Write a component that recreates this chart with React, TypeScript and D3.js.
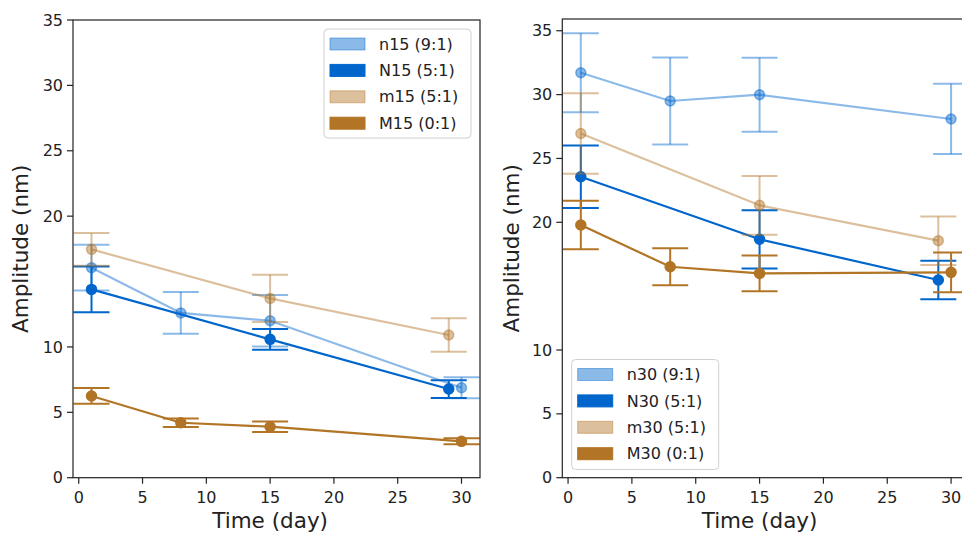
import React from "react";
import * as d3 from "d3";

// colours
const BLUE = "#0066cc";
const BROWN = "#b27425";
const LIGHT = 0.45;

const yTicks = [0, 5, 10, 20, 25, 30, 35];
const xTicks = [0, 5, 10, 15, 20, 25, 30];

// left panel (15)
const days_n15 = [1, 8, 15, 30];
const mean_n15 = [16.06, 12.6, 12.0, 6.88];
const err_n15 = [1.75, 1.6, 1.97, 0.8];
const days_N15 = [1, 15, 29];
const mean_N15 = [14.4, 10.58, 6.78];
const err_N15 = [1.75, 0.8, 0.68];
const days_m15 = [1, 15, 29];
const mean_m15 = [17.46, 13.71, 10.91];
const err_m15 = [1.25, 1.8, 1.28];
const days_M15 = [1, 8, 15, 30];
const mean_M15 = [6.25, 4.2, 3.9, 2.78];
const err_M15 = [0.6, 0.33, 0.4, 0.23];

// right panel (30)
const days_n30 = [1, 8, 15, 30];
const mean_n30 = [31.71, 29.5, 29.99, 28.09];
const err_n30 = [3.1, 3.4, 2.9, 2.75];
const days_N30 = [1, 15, 29];
const mean_N30 = [23.57, 18.67, 15.48];
const err_N30 = [2.45, 2.28, 1.5];
const days_m30 = [1, 15, 29];
const mean_m30 = [26.95, 21.33, 18.56];
const err_m30 = [3.15, 2.3, 1.9];
const days_M30 = [1, 8, 15, 30];
const mean_M30 = [19.79, 16.52, 16.0, 16.08];
const err_M30 = [1.9, 1.45, 1.4, 1.55];

type Series = {
  name: string;
  color: string;
  alpha: number;
  days: number[];
  mean: number[];
  err: number[];
};

const left: Series[] = [
  { name: "n15 (9:1)", color: BLUE, alpha: LIGHT, days: days_n15, mean: mean_n15, err: err_n15 },
  { name: "N15 (5:1)", color: BLUE, alpha: 1, days: days_N15, mean: mean_N15, err: err_N15 },
  { name: "m15 (5:1)", color: BROWN, alpha: LIGHT, days: days_m15, mean: mean_m15, err: err_m15 },
  { name: "M15 (0:1)", color: BROWN, alpha: 1, days: days_M15, mean: mean_M15, err: err_M15 },
];
const right: Series[] = [
  { name: "n30 (9:1)", color: BLUE, alpha: LIGHT, days: days_n30, mean: mean_n30, err: err_n30 },
  { name: "N30 (5:1)", color: BLUE, alpha: 1, days: days_N30, mean: mean_N30, err: err_N30 },
  { name: "m30 (5:1)", color: BROWN, alpha: LIGHT, days: days_m30, mean: mean_m30, err: err_m30 },
  { name: "M30 (0:1)", color: BROWN, alpha: 1, days: days_M30, mean: mean_M30, err: err_M30 },
];

const FONT = "DejaVu Sans, sans-serif";

function Panel({ id, series, x0, x1, y0, y1, yMax, labelX, legend }: any) {
  const x = d3.scaleLinear().domain([-0.45, 31.45]).range([x0, x1]);
  const y = d3.scaleLinear().domain([0, yMax]).range([y1, y0]);
  const line = d3.line<[number, number]>().x((d) => x(d[0])).y((d) => y(d[1]));
  const cap = 18;
  return (
    <g>
      <defs>
        <clipPath id={id}>
          <rect x={x0} y={y0} width={x1 - x0} height={y1 - y0} />
        </clipPath>
      </defs>
      <g clipPath={`url(#${id})`}>
        {series.map((s: Series) => (
          <g key={s.name}>
            {s.days.map((d, i) => {
              const top = y(s.mean[i] + s.err[i]);
              const bot = y(s.mean[i] - s.err[i]);
              return (
                <g key={i} stroke={s.color} strokeOpacity={s.alpha} strokeWidth={2}>
                  <line x1={x(d)} x2={x(d)} y1={top} y2={bot} />
                  <line x1={x(d) - cap} x2={x(d) + cap} y1={top} y2={top} />
                  <line x1={x(d) - cap} x2={x(d) + cap} y1={bot} y2={bot} />
                </g>
              );
            })}
            <path
              d={line(s.days.map((d, i) => [d, s.mean[i]]) as [number, number][]) || ""}
              fill="none"
              stroke={s.color}
              strokeOpacity={s.alpha}
              strokeWidth={2.2}
            />
            {s.days.map((d, i) => (
              <circle
                key={i}
                cx={x(d)}
                cy={y(s.mean[i])}
                r={5}
                fill={s.color}
                fillOpacity={s.alpha}
                stroke={s.color}
                strokeOpacity={s.alpha}
                strokeWidth={1.5}
              />
            ))}
          </g>
        ))}
      </g>
      <rect x={x0} y={y0} width={x1 - x0} height={y1 - y0} fill="none" stroke="#222" strokeWidth={1.2} />
      {yTicks.map((t) => (
        <g key={t}>
          <line x1={x0 - 6} x2={x0} y1={y(t)} y2={y(t)} stroke="#222" strokeWidth={1.2} />
          <text x={x0 - 10} y={y(t)} dy="0.35em" textAnchor="end" fontSize={16} fontFamily={FONT} fill="#222">
            {t}
          </text>
        </g>
      ))}
      {xTicks.map((t) => (
        <g key={t}>
          <line x1={x(t)} x2={x(t)} y1={y1} y2={y1 + 6} stroke="#222" strokeWidth={1.2} />
          <text x={x(t)} y={y1 + 25} textAnchor="middle" fontSize={16} fontFamily={FONT} fill="#222">
            {t}
          </text>
        </g>
      ))}
      <text
        transform={`translate(${labelX},${(y0 + y1) / 2}) rotate(-90)`}
        textAnchor="middle"
        fontSize={21.5}
        fontFamily={FONT}
        fill="#222"
      >
        Amplitude (nm)
      </text>
      <text x={x(15)} y={528} textAnchor="middle" fontSize={21.5} fontFamily={FONT} fill="#222">
        Time (day)
      </text>
      <g transform={`translate(${legend.x},${legend.y})`}>
        <rect width={legend.w} height={legend.h} rx={4} fill="white" fillOpacity={0.85} stroke="#d0d0d0" />
        {series.map((s: Series, i: number) => (
          <g key={s.name} transform={`translate(0,${15 + i * 26.4})`}>
            <rect
              x={6}
              y={-6}
              width={35}
              height={12}
              fill={s.color}
              fillOpacity={s.alpha}
              stroke={s.color}
              strokeOpacity={s.alpha}
              strokeWidth={1}
            />
            <text x={55} y={0} dy="0.35em" fontSize={16} fontFamily={FONT} fill="#222">
              {s.name}
            </text>
          </g>
        ))}
      </g>
    </g>
  );
}

export default function App() {
  return (
    <svg
      width={962}
      height={534}
      style={{ position: "absolute", left: 0, top: 0, background: "white" }}
    >
      <Panel
        id="clipL"
        series={left}
        x0={73}
        x1={480}
        y0={20}
        y1={477.7}
        yMax={35}
        labelX={28}
        legend={{ x: 324, y: 29, w: 147, h: 109 }}
      />
      <Panel
        id="clipR"
        series={right}
        x0={562.3}
        x1={969.6}
        y0={19}
        y1={477.7}
        yMax={35.92}
        labelX={519}
        legend={{ x: 571.7, y: 359.5, w: 147, h: 110 }}
      />
    </svg>
  );
}
